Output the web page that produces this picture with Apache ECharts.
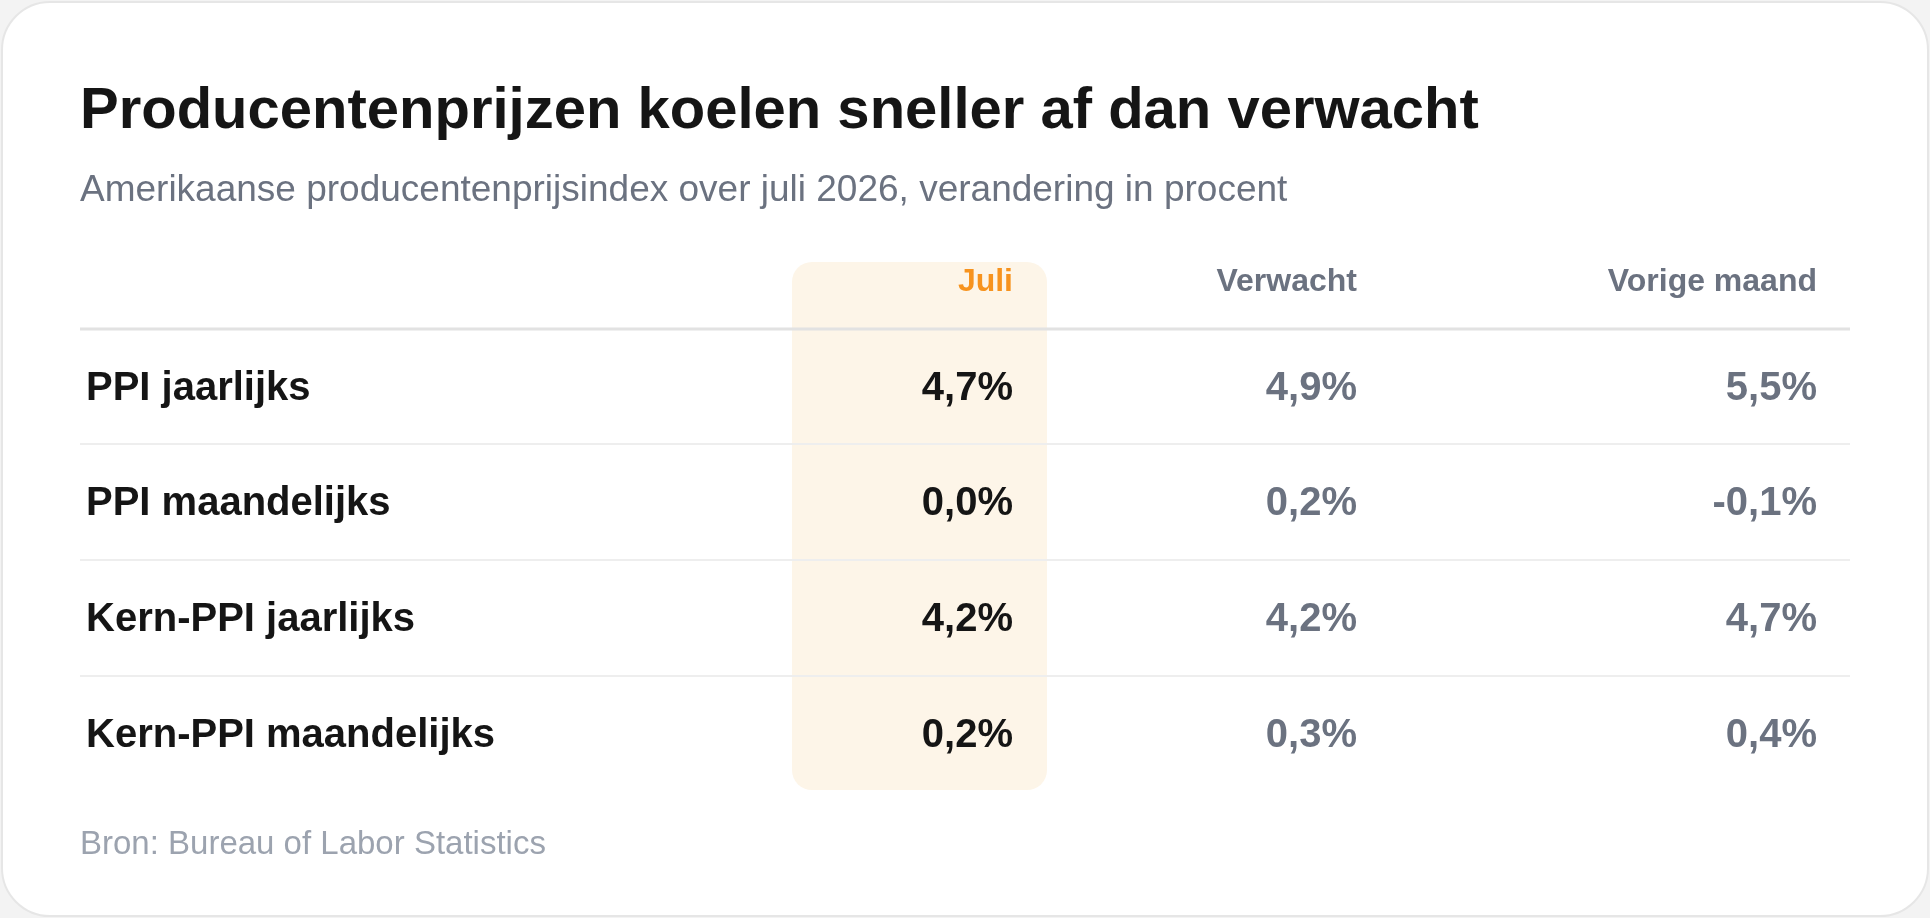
<!DOCTYPE html>
<html><head><meta charset="utf-8">
<script src="https://cdn.jsdelivr.net/npm/echarts@6/dist/echarts.min.js"></script>
<style>html,body{margin:0;padding:0;background:#f3f3f3}#c{width:1930px;height:918px}</style>
</head><body><div id="c"></div>
<script>
const title = 'Producentenprijzen koelen sneller af dan verwacht';
const subtitle = 'Amerikaanse producentenprijsindex over juli 2026, verandering in procent';
const source = 'Bron: Bureau of Labor Statistics';
const columns = ['Juli', 'Verwacht', 'Vorige maand'];
const rowLabels = ['PPI jaarlijks', 'PPI maandelijks', 'Kern-PPI jaarlijks', 'Kern-PPI maandelijks'];
const juli = ['4,7%', '0,0%', '4,2%', '0,2%'];
const verwacht = ['4,9%', '0,2%', '4,2%', '0,3%'];
const vorige = ['5,5%', '-0,1%', '4,7%', '0,4%'];

const F = 'Liberation Sans, Arial, sans-serif';
const colX = [1013, 1357, 1817];
const rowY = [389, 504, 620, 736];
const g = [];
g.push({type:'rect', shape:{x:2,y:2,width:1926,height:914,r:48}, style:{fill:'#fff',stroke:'#e6e6e6',lineWidth:2}});
g.push({type:'rect', shape:{x:792,y:262,width:255,height:528,r:20}, style:{fill:'#fdf5e8'}});
g.push({type:'text', x:80, y:112, style:{text:title, font:'bold 58px '+F, fill:'#151515', textVerticalAlign:'middle'}});
g.push({type:'text', x:80, y:191, style:{text:subtitle, font:'37px '+F, fill:'#6b7280', textVerticalAlign:'middle'}});
columns.forEach((c,i)=>g.push({type:'text', x:colX[i], y:282, style:{text:c, font:'bold 32px '+F, fill:i===0?'#f7931e':'#6b7280', textAlign:'right', textVerticalAlign:'middle'}}));
g.push({type:'line', shape:{x1:80,y1:329,x2:1850,y2:329}, style:{stroke:'#e2e2e2',lineWidth:3}});
[444,560,676].forEach(y=>g.push({type:'line', shape:{x1:80,y1:y,x2:1850,y2:y}, style:{stroke:'#eeeeee',lineWidth:2}}));
const vals=[juli,verwacht,vorige];
rowLabels.forEach((r,j)=>{
  g.push({type:'text', x:86, y:rowY[j], style:{text:r, font:'bold 40px '+F, fill:'#151515', textVerticalAlign:'middle'}});
  vals.forEach((arr,i)=>g.push({type:'text', x:colX[i], y:rowY[j], style:{text:arr[j], font:'bold 40px '+F, fill:i===0?'#151515':'#6b7280', textAlign:'right', textVerticalAlign:'middle'}}));
});
g.push({type:'text', x:80, y:845, style:{text:source, font:'33px '+F, fill:'#9ca3af', textVerticalAlign:'middle'}});
const chart = echarts.init(document.getElementById('c'));
chart.setOption({animation:false, graphic:g});
</script></body></html>
